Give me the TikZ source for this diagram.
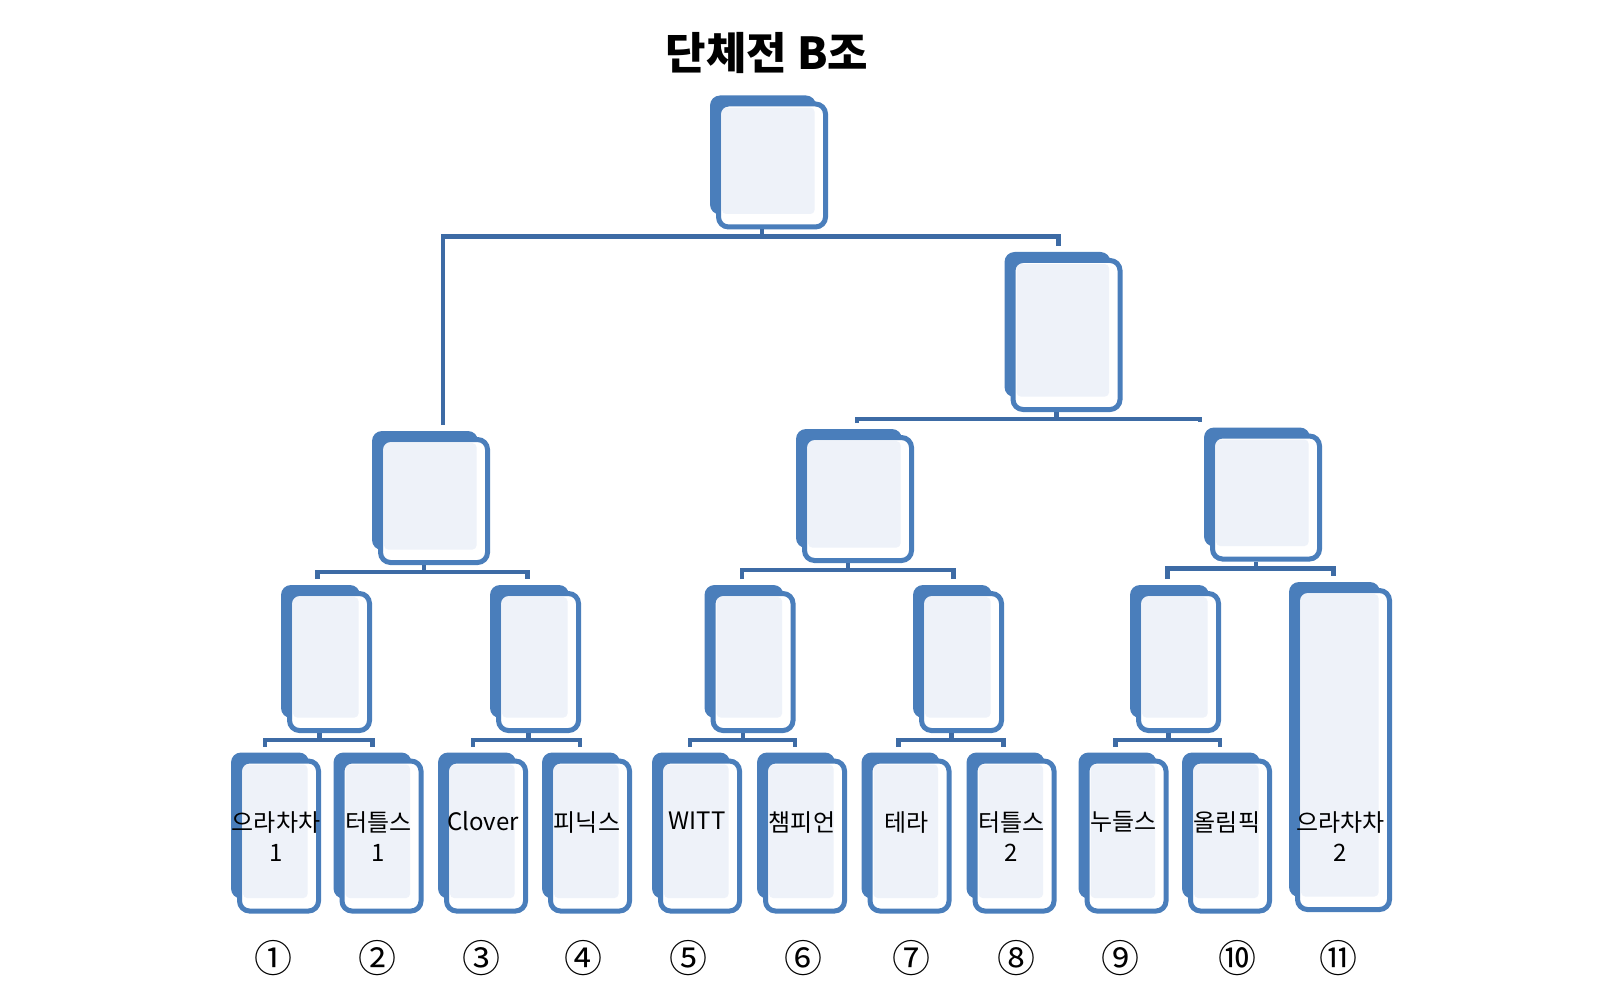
\documentclass[tikz,border=0pt]{standalone}
\usepackage{fontspec}
\setmainfont{Noto Sans CJK KR}
\usetikzlibrary{calc,backgrounds}

\definecolor{cardblue}{HTML}{4A7EBB}
\definecolor{linkblue}{HTML}{3D6BA5}
\definecolor{cardfill}{HTML}{EEF2F9}

\tikzset{
	card/.style={draw=cardblue, line width=2.5pt, fill=white, rounded corners=5pt, inner sep=0pt,
		path picture={\fill[cardfill, rounded corners=2pt]
			([shift={(1.8pt,-1.8pt)}]path picture bounding box.north west) rectangle
			([shift={(-5.5pt,6.5pt)}]path picture bounding box.south east);}},
	bigcard/.style={card, minimum width=53.5pt, minimum height=61.5pt},
	midcard/.style={card, minimum width=40pt, minimum height=68.5pt},
	teamcard/.style={card, minimum width=39.5pt, minimum height=75pt},
	cardback/.style={fill=cardblue, rounded corners=5pt},
	link/.style={draw=linkblue, line width=2.4pt},
	teamlabel/.style={anchor=north, inner sep=0pt, align=center, font=\fontsize{12}{15}\selectfont},
	seed/.style={inner sep=0pt, font=\fontsize{19}{19}\selectfont}
}

\begin{document}
\begin{tikzpicture}[x=0.5pt, y=-0.5pt]
	\useasboundingbox (0,0) rectangle (1600,1000);

	\node[font=\bfseries\fontsize{22}{22}\selectfont] (title) at (767,53) {단체전 B조};

	\node[bigcard] (champ) at (772,165.5) {};
	\node[bigcard, minimum height=74.5pt] (semi) at (1066.5,335) {};
	\node[bigcard] (q1) at (434,501) {};
	\node[bigcard] (q2) at (858,499) {};
	\node[bigcard] (q3) at (1266,497.5) {};

	\foreach \i/\x in {1/329.5, 2/538.5, 3/753, 4/961.5, 5/1178.5}
	{
		\node[midcard] (m\i) at (\x,662) {};
	};

	\foreach \i/\x in {1/279, 2/381.5, 3/486, 4/590, 5/700, 6/805, 7/909.5, 8/1014.5, 9/1126.5, 10/1230}
	{
		\node[teamcard] (t\i) at (\x,836) {};
	};
	\node[teamcard, minimum width=46pt, minimum height=159.5pt] (t11) at (1343.5,750) {};

	\begin{scope}[on background layer]
	\foreach \n in {champ, semi, q1, q2, q3, m1, m2, m3, m4, m5,
		t1, t2, t3, t4, t5, t6, t7, t8, t9, t10, t11}
	{
		\fill[cardback] ($(\n.north west)+(-6,-6)$) rectangle ($(\n.south east)+(-12,-15)$);
	};
	\end{scope}

	\foreach \p / \l / \dl / \r / \dr in {
	champ/q1/9/semi/-8,
	semi/q2/-1/q3/-66,
	q1/m1/-12/m2/-11,
	q2/m3/-11/m4/-8,
	q3/m5/-11/t11/-10,
	m1/t1/-14/t2/-9,
	m2/t3/-13/t4/-10,
	m3/t5/-10/t6/-10,
	m4/t7/-11/t8/-11,
	m5/t9/-11/t10/-10}
	{
		\draw[link] ($(\p.south)+(-10,0)$) -- ++(0,7) coordinate (j);
		\draw[link] ($(\l.north)+(\dl,-12)$) |- (j) -| ($(\r.north)+(\dr,-12)$);
	};

	\foreach \i / \txt in {1/{으라차차\\1}, 2/{터틀스\\1}, 3/Clover, 4/피닉스, 5/WITT,
		6/챔피언, 7/테라, 8/{터틀스\\2}, 9/누들스, 10/올림픽, 11/{으라차차\\2}}
	{
		\node[teamlabel, xshift=-1.5pt] (lab\i) at (t\i.center |- 0,811) {\txt};
	};

	\foreach \i / \x / \c in {1/273/①, 2/377/②, 3/481/③, 4/583/④, 5/688/⑤, 6/803/⑥,
		7/911/⑦, 8/1016/⑧, 9/1120/⑨, 10/1237/⑩, 11/1338/⑪}
	{
		\node[seed] (s\i) at (\x,958) {\c};
	};
\end{tikzpicture}
\end{document}
